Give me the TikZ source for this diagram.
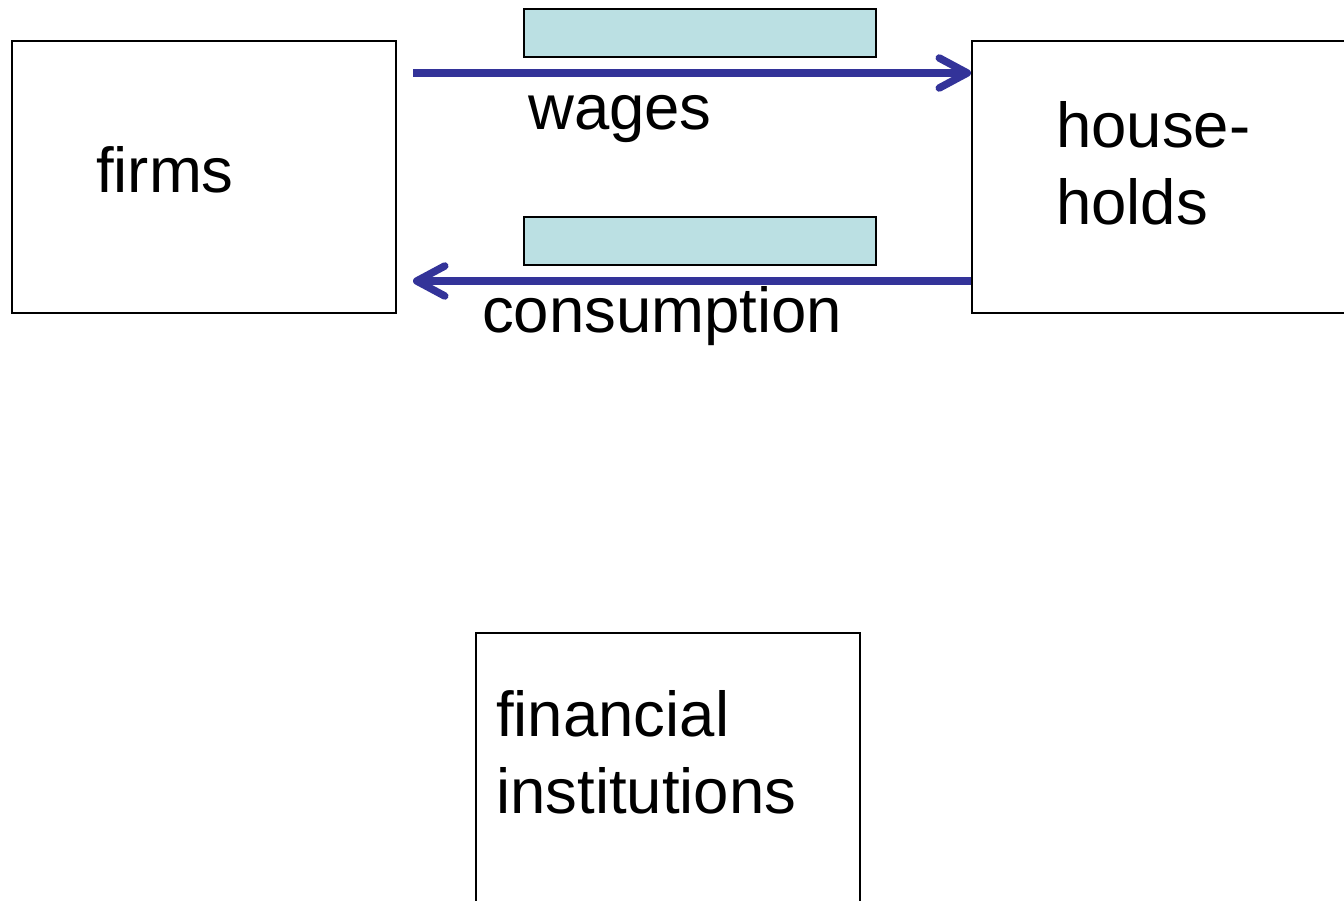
\documentclass[tikz,border=0pt]{standalone}
\usepackage{fontspec}
\setmainfont{Liberation Sans}
\usetikzlibrary{arrows.meta}
\definecolor{flowblue}{HTML}{333399}
\definecolor{tagfill}{HTML}{BBE0E3}
\begin{document}
\begin{tikzpicture}[x=1pt,y=-1pt,
  sector/.style={draw=black,line width=2pt,minimum width=384pt,minimum height=272pt,inner sep=0pt},
  tag/.style={draw=black,fill=tagfill,line width=1.8pt,minimum width=352pt,minimum height=48pt,inner sep=0pt},
  word/.style={anchor=base west,inner sep=0pt,font=\fontsize{63.5pt}{77pt}\selectfont,align=left},
  flow/.style={draw=flowblue,line width=7.5pt,-{Straight Barb[length=28pt,width=30pt,round]}}]
  \useasboundingbox (0,0) rectangle (1344,901);
  \clip (0,0) rectangle (1344,901);
  % the three sectors
  \node[sector] (firms) at (204,177) {};
  \node[sector,minimum width=392pt] (hh) at (1168,177) {};
  \node[sector] (fin) at (668,769) {};
  \node[word] (firmstext) at (96,193) {firms};
  \node[word] (hhtext) at (1056,225) {house-\\holds};
  \node[word] (fintext) at (496,813) {financial\\institutions};
  % placeholder tags above the flows
  \node[tag] (wagetag) at (700,33) {};
  \node[tag] (constag) at (700,241) {};
  % money flows between firms and households
  \coordinate (wstart) at ([xshift=16pt]firms.east |- 0,73);
  \coordinate (cend) at ([xshift=16pt]firms.east |- 0,281);
  \draw[flow] (wstart) -- (hh.west |- wstart);
  \draw[flow] (hh.west |- cend) -- (cend);
  \node[word] (wagelbl) at (528,130) {wages};
  \node[word] (conslbl) at (482,333) {consumption};
\end{tikzpicture}
\end{document}
